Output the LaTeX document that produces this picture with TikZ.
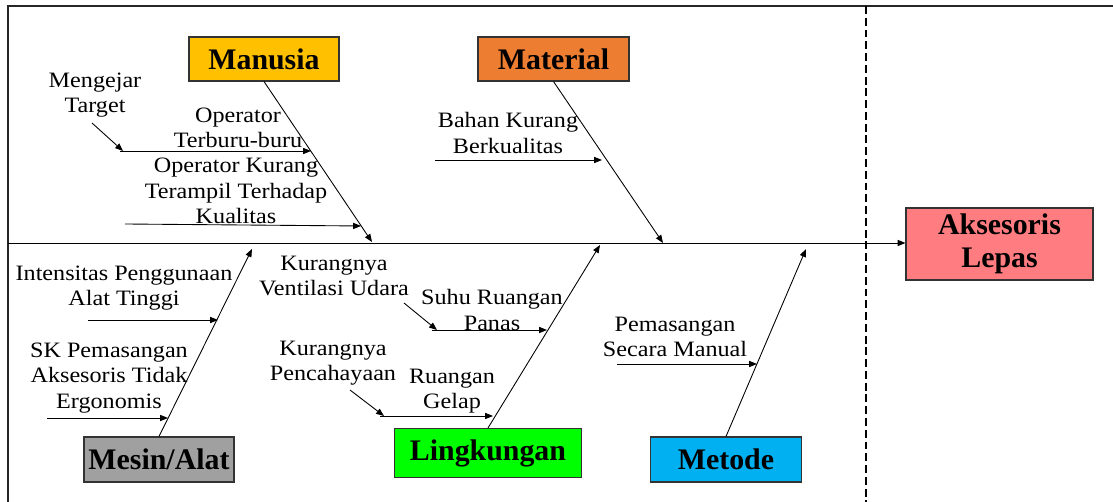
\documentclass[tikz,border=0pt]{standalone}
\usepackage{fontspec}
\setmainfont{Liberation Serif}
\newfontfamily\lblfont[FakeStretch=1.1]{Liberation Serif}
\usetikzlibrary{arrows.meta}
\definecolor{cManusia}{HTML}{FFC000}
\definecolor{cMaterial}{HTML}{ED7D31}
\definecolor{cMesin}{HTML}{A0A0A0}
\definecolor{cLing}{HTML}{00FF00}
\definecolor{cMetode}{HTML}{00B0F0}
\definecolor{cAkses}{HTML}{FF7C80}
\tikzset{
  catbox/.style={draw=black!80, line width=0.6pt, inner sep=0pt, font=\fontsize{17}{18.5}\selectfont\bfseries, align=center},
  lbl/.style={inner sep=0pt, font=\lblfont\fontsize{12.5}{14.5}\selectfont, align=center},
  arr/.style={line width=0.5pt, -{Triangle[length=4.5pt,width=3.5pt]}},
  frameline/.style={line width=0.6pt, black!85}
}
\begin{document}
\begin{tikzpicture}[x=0.02cm,y=-0.02cm]
\useasboundingbox (0,0) rectangle (1113,502);
% frame
\coordinate (ftl) at (8,6);
\coordinate (ftr) at (1113,6);
\coordinate (fbl) at (8,502);
\draw[frameline] (ftr) -- (ftl) -- (fbl);
\coordinate (dtop) at (866,6);
\coordinate (dbot) at (866,502);
\draw[line width=0.6pt, dash pattern=on 4.5pt off 2.2pt] (dtop) -- (dbot);
% head
\node[catbox, fill=cAkses, minimum width=187*0.02cm, minimum height=72*0.02cm] (head) at (999.5,244) {Aksesoris\\Lepas};
\coordinate (spstart) at (8,243);
\draw[arr] (spstart) -- (head.west |- spstart);
% category boxes
\node[catbox, fill=cManusia, minimum width=150*0.02cm, minimum height=44*0.02cm] (manusia) at (264,59) {Manusia};
\node[catbox, fill=cMaterial, minimum width=151*0.02cm, minimum height=44*0.02cm] (material) at (553.5,59) {Material};
\node[catbox, fill=cMesin, minimum width=150*0.02cm, minimum height=45*0.02cm] (mesin) at (159,459.5) {Mesin/Alat};
\node[catbox, fill=cLing, minimum width=187*0.02cm, minimum height=49*0.02cm] (ling) at (488,453) {Lingkungan};
\node[catbox, fill=cMetode, minimum width=151*0.02cm, minimum height=45*0.02cm] (metode) at (726,459.5) {Metode};
% bone ends on spine
\coordinate (eMan) at (372,242);
\coordinate (eMat) at (663,243);
\coordinate (eMes) at (252,249);
\coordinate (eLin) at (600,245);
\coordinate (eMet) at (806,249);
\draw[arr] (manusia.south) -- (eMan);
\draw[arr] (material.south) -- (eMat);
\draw[arr] (mesin.north) -- (eMes);
\draw[arr] (ling.north) -- (eLin);
\draw[arr] (metode.north) -- (eMet);
% Manusia causes
\node[lbl] (t1) at (95,95) {Mengejar\\Target};
\node[lbl] (t2) at (238,128) {Operator\\Terburu-buru};
\node[lbl] (t3) at (236,191) {Operator Kurang\\Terampil Terhadap\\Kualitas};
\coordinate (a1s) at (92,123);
\coordinate (a1e) at (123,151);
\coordinate (a2s) at (120,151);
\coordinate (a2e) at (311,151);
\coordinate (a3s) at (125,224);
\coordinate (a3e) at (361,226);
\draw[arr] (a1s) -- (a1e);
\draw[arr] (a2s) -- (a2e);
\draw[arr] (a3s) -- (a3e);
% Material causes
\node[lbl] (t4) at (508,133) {Bahan Kurang\\Berkualitas};
\coordinate (a4s) at (435,160);
\coordinate (a4e) at (602,160);
\draw[arr] (a4s) -- (a4e);
% Mesin causes
\node[lbl] (t5) at (124,288) {Intensitas Penggunaan\\Alat Tinggi};
\node[lbl] (t6) at (109,378) {SK Pemasangan\\Aksesoris Tidak\\Ergonomis};
\coordinate (a5s) at (88,320);
\coordinate (a5e) at (218,320);
\coordinate (a6s) at (47,418);
\coordinate (a6e) at (168,418);
\draw[arr] (a5s) -- (a5e);
\draw[arr] (a6s) -- (a6e);
% Lingkungan causes
\node[lbl] (t7) at (334,276) {Kurangnya\\Ventilasi Udara};
\node[lbl] (t8) at (492,310) {Suhu Ruangan\\Panas};
\node[lbl] (t9) at (333,363) {Kurangnya\\Pencahayaan};
\node[lbl] (t10) at (452,391) {Ruangan\\Gelap};
\coordinate (a7s) at (404,303);
\coordinate (a7e) at (437,330);
\coordinate (a8s) at (432,330);
\coordinate (a8e) at (547,330);
\coordinate (a9s) at (350,390);
\coordinate (a9e) at (384,416);
\coordinate (a10s) at (380,416);
\coordinate (a10e) at (493,416);
\draw[arr] (a7s) -- (a7e);
\draw[arr] (a8s) -- (a8e);
\draw[arr] (a9s) -- (a9e);
\draw[arr] (a10s) -- (a10e);
% Metode causes
\node[lbl] (t11) at (675,337) {Pemasangan\\Secara Manual};
\coordinate (a11s) at (617,364);
\coordinate (a11e) at (757,364);
\draw[arr] (a11s) -- (a11e);
\end{tikzpicture}
\end{document}
